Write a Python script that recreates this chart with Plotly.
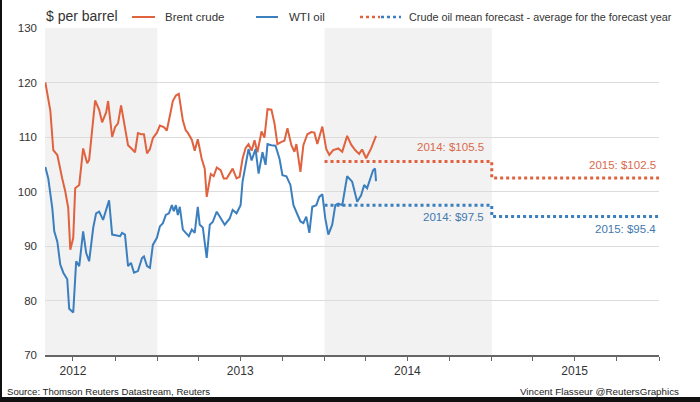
import numpy as np
import pandas as pd
import plotly.graph_objects as go

# Time of each observation, in months since 1 Jan 2012
brent_months = [4.00, 4.36, 4.57, 4.86, 5.21, 5.43, 5.64, 5.79, 6.00, 6.14, 6.43, 6.71, 7.00, 7.14, 7.57, 7.86,
                8.07, 8.36, 8.50, 8.79, 9.00, 9.21, 9.43, 9.64, 9.93, 10.21, 10.43, 10.64, 10.86, 11.07, 11.29,
                11.50, 11.71, 12.00, 12.21, 12.50, 12.71, 12.93, 13.14, 13.36, 13.57, 13.86, 14.07, 14.21, 14.50,
                14.71, 14.93, 15.21, 15.43, 15.57, 15.86, 16.07, 16.29, 16.57, 16.79, 17.00, 17.43, 17.71, 17.93,
                18.14, 18.36, 18.57, 18.79, 19.00, 19.21, 19.50, 19.71, 19.93, 20.21, 20.43, 20.64, 20.93, 21.14,
                21.36, 21.64, 21.86, 22.00, 22.29, 22.50, 22.79, 23.07, 23.29, 23.50, 23.86, 24.14, 24.36, 24.64,
                25.00, 25.29, 25.64, 25.93, 26.21, 26.50, 26.71, 27.00, 27.36, 27.71]
brent_values = [120, 114.8, 107.6, 106.7, 102.4, 100, 97, 89.3, 91.5, 100.6, 101.2, 107.9, 105.2, 105.8, 116.7, 115,
                112.7, 114.5, 116.6, 110, 111.8, 112.5, 115.8, 112.4, 108.5, 107.8, 107.2, 110.7, 110.5, 110.5, 107,
                107.8, 109.8, 110.8, 112.1, 111.8, 111.2, 113.9, 116.6, 117.6, 117.9, 113, 111.2, 110.8, 109.5,
                107.5, 109.6, 106, 104.2, 99, 103.2, 102.8, 104.4, 103.9, 102.4, 102.4, 104.2, 102.4, 102.7,
                106, 108, 108.7, 107.5, 109.4, 107.2, 111, 109.9, 115.1, 115, 112.5, 108.7, 109.1, 109.3,
                111.6, 108.5, 107.3, 108.7, 103.6, 108.5, 110.5, 110.9, 110.8, 108.7, 111.9, 107.8, 106.7, 107.6,
                107.9, 107.3, 110.2, 108.6, 107.6, 106.9, 107.7, 106.1, 107.9, 110.2]

wti_months = [4.00, 4.21, 4.50, 4.64, 4.86, 5.07, 5.29, 5.57, 5.71, 6.00, 6.21, 6.43, 6.71, 6.93, 7.14, 7.43, 7.64,
              7.86, 8.14, 8.36, 8.57, 8.79, 9.14, 9.36, 9.50, 9.71, 9.93, 10.14, 10.36, 10.64, 10.93, 11.07, 11.29,
              11.50, 11.71, 12.00, 12.21, 12.43, 12.64, 12.86, 13.07, 13.21, 13.36, 13.50, 13.64, 13.86, 14.07,
              14.29, 14.50, 14.71, 14.93, 15.07, 15.29, 15.57, 15.79, 16.00, 16.29, 16.57, 16.86, 17.21, 17.43,
              17.71, 18.00, 18.14, 18.43, 18.57, 18.79, 19.07, 19.29, 19.57, 19.79, 19.93, 20.21, 20.50, 20.79,
              21.00, 21.29, 21.57, 21.79, 22.00, 22.29, 22.50, 22.71, 22.93, 23.14, 23.43, 23.64, 23.86, 24.07,
              24.29, 24.57, 24.79, 25.00, 25.29, 25.64, 26.00, 26.36, 26.64, 26.86, 27.07, 27.50, 27.64, 27.71]
wti_values = [104.5, 102.4, 96.9, 92.7, 90.8, 86.6, 85.1, 83.9, 78.5, 77.8, 87.2, 86.3, 92.7, 88.7, 87.2, 93.3, 96,
              96.3, 94.8, 96.9, 98.4, 92.1, 91.9, 91.8, 92.4, 92.1, 86.3, 86.9, 85.1, 85.4, 87.8, 88.1, 86.3,
              86, 90.2, 91.5, 93.6, 94.2, 95.7, 96, 97.5, 96.4, 97.5, 95.7, 97.2, 93, 92.4,
              91.8, 93, 92.4, 97.2, 93.9, 93.4, 87.8, 93.9, 94.4, 96.3, 95.1, 93.9, 95, 96.6,
              96, 97.5, 101.8, 106, 107.8, 105.7, 107.8, 103.3, 107.2, 104.9, 108.7, 108.5, 108.4, 106,
              103, 102.8, 101.2, 97.5, 96.3, 94.5, 94.2, 95.4, 92.4, 97.2, 97.5, 99, 99.5, 95.1,
              92.1, 93.9, 97.5, 97.8, 97.5, 102.8, 101.8, 98.1, 99.3, 101.2, 100.6, 103.9, 104.2, 101.9]

forecast_years = ["2014", "2015"]
brent_forecast = [105.5, 102.5]
wti_forecast = [97.5, 95.4]

year_labels = ["2012", "2013", "2014", "2015"]
y_ticks = [70, 80, 90, 100, 110, 120, 130]

BASE = pd.Timestamp("2012-01-01")


def to_dates(months):
    return BASE + pd.to_timedelta(np.array(months) * 30.4375, unit="D")


RED = "#e0623f"
BLUE = "#3b7fbf"
RED_TXT = "#d9694c"
BLUE_TXT = "#4279ad"
FONT = "Liberation Sans, Arial, sans-serif"

W, H = 700, 402
L, R, T, B = 45, 41, 28, 47


def px(x):
    return (x - L) / (W - L - R)


def py(y):
    return (H - B - y) / (H - T - B)


fig = go.Figure()

fig.add_trace(go.Scatter(x=to_dates(brent_months), y=brent_values, mode="lines",
                         line=dict(color=RED, width=2), name="Brent crude", showlegend=False))
fig.add_trace(go.Scatter(x=to_dates(wti_months), y=wti_values, mode="lines",
                         line=dict(color=BLUE, width=2), name="WTI oil", showlegend=False))


def step(vals):
    xs, ys = [], []
    for yr, v in zip(forecast_years, vals):
        xs += [f"{yr}-01-01", f"{int(yr) + 1}-01-01"]
        ys += [v, v]
    return xs, ys


for vals, col in [(brent_forecast, RED), (wti_forecast, BLUE)]:
    xs, ys = step(vals)
    fig.add_trace(go.Scatter(x=xs, y=ys, mode="lines", line=dict(color=col, width=3, dash="dot"),
                             showlegend=False, hoverinfo="skip"))

# shaded years
x_start = "2012-05-01"
for x0, x1 in [(x_start, "2013-01-01"), ("2014-01-01", "2015-01-01")]:
    fig.add_shape(type="rect", xref="x", yref="y", x0=x0, x1=x1, y0=70, y1=130,
                  fillcolor="#f2f2f2", line_width=0, layer="below")

# forecast labels
for i, yr in enumerate(forecast_years):
    xe = f"{int(yr) + 1}-01-01"
    fig.add_annotation(x=xe, y=brent_forecast[i], xref="x", yref="y", text=f"{yr}: ${brent_forecast[i]}",
                       showarrow=False, xanchor="right", yanchor="bottom", xshift=-6 if i == 0 else -1,
                       yshift=7 if i == 0 else 5, font=dict(family=FONT, size=11.5, color=RED_TXT))
    fig.add_annotation(x=xe, y=wti_forecast[i], xref="x", yref="y", text=f"{yr}: ${wti_forecast[i]}",
                       showarrow=False, xanchor="right", yanchor="top", xshift=-6 if i == 0 else -1,
                       yshift=-4, font=dict(family=FONT, size=11.5, color=BLUE_TXT))

# header & legend
fig.add_annotation(x=px(44), y=py(16), xref="paper", yref="paper", text="$ per barrel", showarrow=False,
                   xanchor="left", yanchor="middle", font=dict(family=FONT, size=14, color="#333"))
legend = [("Brent crude", 132, 155, 163, RED), ("WTI oil", 256, 278, 287, BLUE)]
for label, a, b, t, col in legend:
    fig.add_shape(type="line", xref="paper", yref="paper", x0=px(a), x1=px(b), y0=py(17), y1=py(17),
                  line=dict(color=col, width=2))
    fig.add_annotation(x=px(t), y=py(17), xref="paper", yref="paper", text=label, showarrow=False,
                       xanchor="left", yanchor="middle", font=dict(family=FONT, size=11.5, color="#333"))
fig.add_shape(type="line", xref="paper", yref="paper", x0=px(360), x1=px(380), y0=py(17), y1=py(17),
              line=dict(color=RED, width=2.5, dash="dot"))
fig.add_shape(type="line", xref="paper", yref="paper", x0=px(381), x1=px(401), y0=py(17), y1=py(17),
              line=dict(color=BLUE, width=2.5, dash="dot"))
fig.add_annotation(x=px(407), y=py(17), xref="paper", yref="paper",
                   text="Crude oil mean forecast - average for the forecast year", showarrow=False,
                   xanchor="left", yanchor="middle", font=dict(family=FONT, size=10.8, color="#333"))

# footer
fig.add_annotation(x=px(5), y=py(391), xref="paper", yref="paper",
                   text="Source: Thomson Reuters Datastream, Reuters", showarrow=False,
                   xanchor="left", yanchor="middle", font=dict(family=FONT, size=9.6, color="#222"))
fig.add_annotation(x=px(681), y=py(391), xref="paper", yref="paper",
                   text="Vincent Flasseur @ReutersGraphics", showarrow=False,
                   xanchor="right", yanchor="middle", font=dict(family=FONT, size=9.8, color="#222"))

# frame edges of the picture
fig.add_shape(type="rect", xref="paper", yref="paper", x0=px(0), x1=px(2), y0=py(402), y1=py(0),
              fillcolor="#111", line_width=0)
fig.add_shape(type="rect", xref="paper", yref="paper", x0=px(0), x1=px(700), y0=py(402), y1=py(397),
              fillcolor="#111", line_width=0)

quarters = pd.date_range("2012-07-01", "2016-01-01", freq="QS")
qtext = [str(q.year) if (q.month == 7 and str(q.year) in year_labels) else "" for q in quarters]

fig.update_xaxes(type="date", range=[x_start, "2016-01-01"], tickvals=list(quarters), ticktext=qtext,
                 ticks="outside", ticklen=4, tickcolor="#666", tickwidth=1,
                 showline=True, linecolor="#666", linewidth=2, showgrid=False, zeroline=False,
                 tickfont=dict(family=FONT, size=12, color="#333"))
fig.update_yaxes(range=[70, 130], tickvals=y_ticks, showgrid=True, gridcolor="#dcdcdc", gridwidth=1,
                 zeroline=False, showline=False, ticks="", ticklabelstandoff=7,
                 tickfont=dict(family=FONT, size=11.5, color="#333"))

fig.update_layout(width=W, height=H, margin=dict(l=L, r=R, t=T, b=B), plot_bgcolor="white",
                  paper_bgcolor="white", showlegend=False)

fig.write_html("out.html", config={"displayModeBar": False},
               post_script="document.body.style.margin='0';")
